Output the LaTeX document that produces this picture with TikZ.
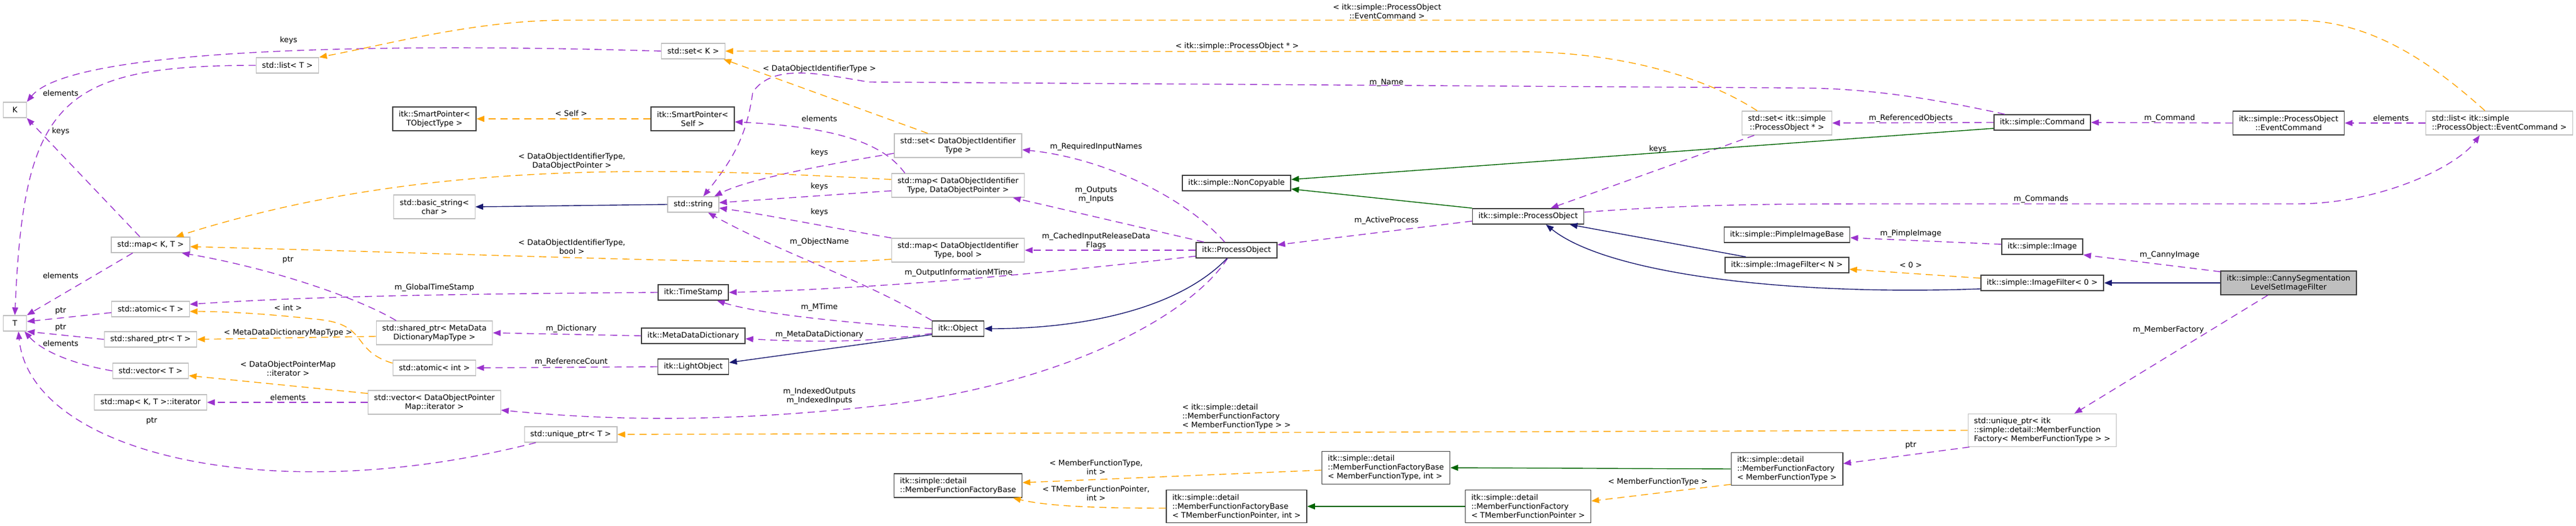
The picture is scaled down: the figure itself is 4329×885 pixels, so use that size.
\documentclass[tikz,border=0pt]{standalone}
\usepackage{fontspec}
\setmainfont{DejaVu Sans}
\usetikzlibrary{arrows.meta}
\definecolor{usecol}{HTML}{9A32CD}
\definecolor{tmplcol}{HTML}{FFA500}
\definecolor{pubcol}{HTML}{191970}
\definecolor{protcol}{HTML}{006400}
\definecolor{boxgray}{HTML}{BFBFBF}
\definecolor{boxdark}{HTML}{404040}
\definecolor{mainfill}{HTML}{BFBFBF}

\begin{document}
\begin{tikzpicture}[
            x = 1pt, y = -1pt,
            every node/.style={font=\fontsize{12.9pt}{15pt}\selectfont},
            ext/.style={draw=boxgray, line width=1.4pt, fill=white, minimum height=26pt, inner xsep=10pt, inner ysep=3pt, align=center},
            cls/.style={ext, draw=boxdark, line width=1.6pt},
            main/.style={cls, fill=mainfill},
            two/.style={minimum height=40pt},
            three/.style={minimum height=55pt},
            lbl/.style={inner sep=0pt, align=center},
            line/.style={line width=1.4pt, -{Triangle[length=13pt,width=10pt]}},
            use/.style={line, usecol, dash pattern=on 12pt off 8pt},
            tmpl/.style={line, tmplcol, dash pattern=on 12pt off 8pt},
            pub/.style={line, pubcol},
            prot/.style={line, protcol},
            ]

        \fill[white] (0, 0) rectangle (4329, 885);
        \useasboundingbox (0, 0) rectangle (4329, 885);

        \node[ext, minimum width=39pt] (K) at (25, 185) {K};
        \node[ext, minimum width=39pt] (T) at (25, 544) {T};
        \node[ext] (listT) at (483, 110) {std::list< T >};
        \node[ext] (mapKT) at (253, 412) {std::map< K, T >};
        \node[ext] (atomicT) at (253, 520) {std::atomic< T >};
        \node[ext] (sharedT) at (253, 571) {std::shared\_ptr< T >};
        \node[ext] (vectorT) at (253, 624) {std::vector< T >};
        \node[ext] (mapiter) at (253, 677) {std::map< K, T >::iterator};
        \node[cls, two] (spTObj) at (730, 200) {itk::SmartPointer<\\ TObjectType >};
        \node[ext, two] (basicstr) at (730, 348) {std::basic\_string<\\ char >};
        \node[ext, two] (sharedMDD) at (730, 560) {std::shared\_ptr< MetaData\\ DictionaryMapType >};
        \node[ext] (atomicint) at (730, 619) {std::atomic< int >};
        \node[ext, two] (vectorDOPM) at (730, 677) {std::vector< DataObjectPointer\\ Map::iterator >};
        \node[ext] (setK) at (1165, 86) {std::set< K >};
        \node[cls, two] (spSelf) at (1164, 200) {itk::SmartPointer<\\ Self >};
        \node[ext] (stdstring) at (1165, 344) {std::string};
        \node[cls] (timestamp) at (1165, 492) {itk::TimeStamp};
        \node[cls] (mdd) at (1165, 565) {itk::MetaDataDictionary};
        \node[cls] (lightobj) at (1165, 617) {itk::LightObject};
        \node[ext] (uniqueT) at (959, 731) {std::unique\_ptr< T >};
        \node[ext, two] (setDOIT) at (1610, 245) {std::set< DataObjectIdentifier\\ Type >};
        \node[ext, two] (mapDOP) at (1610, 312) {std::map< DataObjectIdentifier\\ Type, DataObjectPointer >};
        \node[ext, two] (mapbool) at (1610, 421) {std::map< DataObjectIdentifier\\ Type, bool >};
        \node[cls] (object) at (1610, 553) {itk::Object};
        \node[cls, two, align=left] (mffbase) at (1610, 817) {itk::simple::detail\\ ::MemberFunctionFactoryBase};
        \node[cls] (noncopy) at (2078, 308) {itk::simple::NonCopyable};
        \node[cls] (itkpo) at (2078, 421) {itk::ProcessObject};
        \node[cls, three, align=left] (mffbTMFP) at (2078, 852) {itk::simple::detail\\ ::MemberFunctionFactoryBase\\ < TMemberFunctionPointer, int >};
        \node[cls, three, align=left] (mffbMFT) at (2329, 787) {itk::simple::detail\\ ::MemberFunctionFactoryBase\\ < MemberFunctionType, int >};
        \node[cls] (simplepo) at (2568, 364) {itk::simple::ProcessObject};
        \node[cls, three, align=left] (mffTMFP) at (2568, 852) {itk::simple::detail\\ ::MemberFunctionFactory\\ < TMemberFunctionPointer >};
        \node[ext, two] (setPO) at (3003, 207) {std::set< itk::simple\\ ::ProcessObject * >};
        \node[cls] (pimple) at (3003, 395) {itk::simple::PimpleImageBase};
        \node[cls] (imgfN) at (3003, 446) {itk::simple::ImageFilter< N >};
        \node[cls, three, align=left] (mffMFT) at (3003, 789) {itk::simple::detail\\ ::MemberFunctionFactory\\ < MemberFunctionType >};
        \node[cls] (command) at (3432, 206) {itk::simple::Command};
        \node[cls] (image) at (3432, 415) {itk::simple::Image};
        \node[cls] (imgf0) at (3432, 476) {itk::simple::ImageFilter< 0 >};
        \node[ext, three, align=left] (uniqueMFF) at (3432, 724) {std::unique\_ptr< itk\\ ::simple::detail::MemberFunction\\ Factory< MemberFunctionType > >};
        \node[cls, two] (eventcmd) at (3846, 207) {itk::simple::ProcessObject\\ ::EventCommand};
        \node[main, two] (canny) at (3846, 476) {itk::simple::CannySegmentation\\ LevelSetImageFilter};
        \node[ext, two, align=left] (listEC) at (4200, 207) {std::list< itk::simple\\ ::ProcessObject::EventCommand >};

        \draw[use] (setK.west) .. controls (650, 72) and (120, 80) .. (K.north east);
        \draw[use] (listT.west) .. controls (100, 110) and (40, 170) .. (T.north);
        \draw[use] ([xshift=-18pt]mapKT.north) -- (K.south east);
        \draw[use] ([xshift=-30pt]mapKT.south) -- (T.north east);
        \draw[use] ([yshift=-6pt]atomicT.west) -- ([yshift=3pt]T.east);
        \draw[use] (sharedT.west) -- (T.south east);
        \draw[use] (vectorT.west) .. controls (120, 612) and (70, 590) .. ([xshift=-4pt]T.south east);
        \draw[use] ([xshift=20pt]uniqueT.south west) .. controls (450, 860) and (50, 760) .. ([xshift=6pt]T.south);
        \draw[use] ([xshift=34pt]sharedMDD.north west) .. controls (600, 500) and (450, 450) .. ([xshift=-14pt]mapKT.south east);
        \draw[use] (timestamp.west) .. controls (700, 495) and (500, 500) .. ([yshift=8pt]atomicT.east);
        \draw[use] (mdd.west) -- (sharedMDD.east);
        \draw[use] (lightobj.west) -- (atomicint.east);
        \draw[use] (vectorDOPM.west) -- (mapiter.east);
        \draw[use] ([yshift=-13pt]setDOIT.west) .. controls (1350, 283) and (1250, 305) .. ([xshift=-8pt]stdstring.north east);
        \draw[use] ([yshift=-9pt]mapDOP.west) -- ([yshift=3pt]stdstring.east);
        \draw[use] (mapbool.north west) .. controls (1380, 380) and (1280, 360) .. ([yshift=-6pt]stdstring.east);
        \draw[use] ([xshift=23pt]mapDOP.north west) .. controls (1490, 250) and (1430, 215) .. ([yshift=-5pt]spSelf.east);
        \draw[use] ([xshift=19pt]command.north west) .. controls (3200, 155) and (3100, 148) .. (3017, 148) -- (1460, 138) .. controls (1380, 125) and (1300, 105) .. (1265, 155) .. controls (1255, 230) and (1230, 270) .. ([xshift=17pt]stdstring.north);
        \draw[use] (object.north west) .. controls (1450, 470) and (1300, 420) .. ([xshift=25pt]stdstring.south);
        \draw[use] (object.west) .. controls (1450, 545) and (1280, 530) .. ([xshift=40pt]timestamp.south);
        \draw[use] ([yshift=-8pt]object.west) .. controls (1450, 578) and (1350, 575) .. ([yshift=-5pt]mdd.east);
        \draw[use] ([xshift=-20pt]itkpo.north) .. controls (1990, 330) and (1850, 265) .. ([yshift=-7pt]setDOIT.east);
        \draw[use] ([xshift=-55pt]itkpo.north) -- ([xshift=-20pt]mapDOP.south east);
        \draw[use] (itkpo.west) -- (mapbool.east);
        \draw[use] ([yshift=-10pt]itkpo.west) .. controls (1800, 455) and (1500, 485) .. (timestamp.east);
        \draw[use] ([xshift=-15pt]itkpo.south) .. controls (2000, 530) and (1800, 640) .. (1500, 680) .. controls (1200, 715) and (1000, 705) .. ([yshift=-13pt]vectorDOPM.east);
        \draw[use] ([yshift=-8pt]simplepo.west) -- ([yshift=9pt]itkpo.east);
        \draw[use] ([xshift=-55pt]setPO.south) -- ([xshift=38pt]simplepo.north);
        \draw[use] ([yshift=7pt]simplepo.east) .. controls (2850, 343) and (3000, 343) .. (3200, 343) -- (3860, 343) .. controls (4000, 343) and (4130, 280) .. ([xshift=-33pt]listEC.south);
        \draw[use] (command.west) -- (setPO.east);
        \draw[use] (eventcmd.west) -- (command.east);
        \draw[use] (listEC.west) -- (eventcmd.east);
        \draw[use] ([yshift=4pt]image.west) -- ([yshift=-5pt]pimple.east);
        \draw[use] ([yshift=-2pt]canny.north west) -- (image.south east);
        \draw[use] ([xshift=-35pt]canny.south) -- ([xshift=54pt]uniqueMFF.north);
        \draw[use] ([xshift=3pt]uniqueMFF.south west) -- ([yshift=9pt]mffMFT.east);

        \draw[tmpl] ([xshift=-24pt]listEC.north) .. controls (4080, 100) and (3980, 34) .. (3858, 34) -- (950, 34) .. controls (800, 34) and (650, 75) .. (listT.north east);
        \draw[tmpl] ([xshift=-50pt]setPO.north) .. controls (2850, 120) and (2700, 87) .. (2550, 87) -- (setK.east);
        \draw[tmpl] ([xshift=-51pt]setDOIT.north) -- ([xshift=-3pt]setK.south east);
        \draw[tmpl] ([yshift=10pt]mapDOP.west) .. controls (1100, 280) and (700, 270) .. ([xshift=-24pt]mapKT.north east);
        \draw[tmpl] ([yshift=-15pt]mapbool.west) .. controls (1350, 450) and (900, 430) .. ([yshift=-3pt]mapKT.east);
        \draw[tmpl] ([yshift=8pt]atomicint.west) .. controls (590, 590) and (620, 548) .. (540, 538) .. controls (450, 528) and (380, 524) .. ([yshift=-4pt]atomicT.east);
        \draw[tmpl] ([yshift=-6pt]sharedMDD.west) -- (sharedT.east);
        \draw[tmpl] ([yshift=15pt]vectorDOPM.west) -- ([yshift=-8pt]vectorT.east);
        \draw[tmpl] (uniqueMFF.west) -- (uniqueT.east);
        \draw[tmpl] (spSelf.west) -- (spTObj.east);
        \draw[tmpl] ([yshift=8pt]imgf0.west) -- ([yshift=-7pt]imgfN.east);
        \draw[tmpl] ([yshift=-26pt]mffMFT.west) -- ([yshift=9pt]mffTMFP.east);
        \draw[tmpl] ([yshift=-4pt]mffbMFT.west) -- ([yshift=5pt]mffbase.east);
        \draw[tmpl] ([yshift=-3pt]mffbTMFP.west) .. controls (1850, 855) and (1760, 852) .. ([xshift=-16pt]mffbase.south east);

        \draw[pub] (stdstring.west) -- (basicstr.east);
        \draw[pub] ([yshift=-10pt]object.west) -- ([yshift=7pt]lightobj.east);
        \draw[pub] ([xshift=-16pt]itkpo.south) .. controls (1980, 520) and (1820, 553) .. (object.east);
        \draw[pub] ([xshift=-69pt]imgfN.north) -- ([xshift=70pt]simplepo.south);
        \draw[pub] ([yshift=-10pt]imgf0.west) .. controls (3000, 498) and (2700, 460) .. ([xshift=30pt]simplepo.south);
        \draw[pub] (canny.west) -- (imgf0.east);
        \draw[prot] ([yshift=-10pt]command.west) -- ([yshift=6pt]noncopy.east);
        \draw[prot] (simplepo.north west) -- ([yshift=-10pt]noncopy.east);
        \draw[prot] (mffMFT.west) -- (mffbMFT.east);
        \draw[prot] (mffTMFP.west) -- (mffbTMFP.east);

        \node[lbl] (l1) at (485, 68) {keys};
        \node[lbl] (l2) at (102, 157) {elements};
        \node[lbl] (l3) at (102, 221) {keys};
        \node[lbl] (l4) at (484, 437) {ptr};
        \node[lbl] (l5) at (102, 464) {elements};
        \node[lbl] (l6) at (102, 523) {ptr};
        \node[lbl] (l7) at (102, 551) {ptr};
        \node[lbl] (l8) at (102, 578) {elements};
        \node[lbl] (l9) at (484, 518) {< int >};
        \node[lbl] (l10) at (484, 560) {< MetaDataDictionaryMapType >};
        \node[lbl] (l11) at (484, 620) {< DataObjectPointerMap\\ ::iterator >};
        \node[lbl] (l12) at (484, 669) {elements};
        \node[lbl] (l13) at (730, 484) {m\_GlobalTimeStamp};
        \node[lbl] (l14) at (255, 708) {ptr};
        \node[lbl] (l15) at (960, 191) {< Self >};
        \node[lbl] (l16) at (961, 271) {< DataObjectIdentifierType,\\ DataObjectPointer >};
        \node[lbl] (l17) at (961, 415) {< DataObjectIdentifierType,\\ bool >};
        \node[lbl] (l18) at (960, 553) {m\_Dictionary};
        \node[lbl] (l19) at (960, 609) {m\_ReferenceCount};
        \node[lbl] (l20) at (1377, 116) {< DataObjectIdentifierType >};
        \node[lbl] (l21) at (1377, 200) {elements};
        \node[lbl] (l22) at (1377, 257) {keys};
        \node[lbl] (l23) at (1377, 314) {keys};
        \node[lbl] (l24) at (1377, 357) {keys};
        \node[lbl] (l25) at (1377, 407) {m\_ObjectName};
        \node[lbl] (l26) at (1377, 517) {m\_MTime};
        \node[lbl] (l27) at (1377, 563) {m\_MetaDataDictionary};
        \node[lbl] (l28) at (1377, 667) {m\_IndexedOutputs\\ m\_IndexedInputs};
        \node[lbl] (l29) at (1611, 459) {m\_OutputInformationMTime};
        \node[lbl] (l30) at (2331, 19) {< itk::simple::ProcessObject\\ ::EventCommand >};
        \node[lbl] (l31) at (2079, 78) {< itk::simple::ProcessObject * >};
        \node[lbl] (l32) at (2330, 139) {m\_Name};
        \node[lbl] (l33) at (1842, 247) {m\_RequiredInputNames};
        \node[lbl] (l34) at (1842, 328) {m\_Outputs\\ m\_Inputs};
        \node[lbl] (l35) at (1842, 405) {m\_CachedInputReleaseData\\ Flags};
        \node[lbl, align=left] (l36) at (2078, 701) {< itk::simple::detail\\ ::MemberFunctionFactory\\ < MemberFunctionType > >};
        \node[lbl] (l37) at (1842, 786) {< MemberFunctionType,\\ int >};
        \node[lbl] (l38) at (1842, 830) {< TMemberFunctionPointer,\\ int >};
        \node[lbl] (l39) at (2330, 371) {m\_ActiveProcess};
        \node[lbl] (l40) at (2786, 251) {keys};
        \node[lbl] (l41) at (3211, 199) {m\_ReferencedObjects};
        \node[lbl] (l42) at (3211, 393) {m\_PimpleImage};
        \node[lbl] (l43) at (3211, 446) {< 0 >};
        \node[lbl] (l44) at (3211, 749) {ptr};
        \node[lbl] (l45) at (2786, 811) {< MemberFunctionType >};
        \node[lbl] (l46) at (3646, 199) {m\_Command};
        \node[lbl] (l47) at (4018, 199) {elements};
        \node[lbl] (l48) at (3430, 335) {m\_Commands};
        \node[lbl] (l49) at (3646, 429) {m\_CannyImage};
        \node[lbl] (l50) at (3644, 555) {m\_MemberFactory};
    \end{tikzpicture}
\end{document}
